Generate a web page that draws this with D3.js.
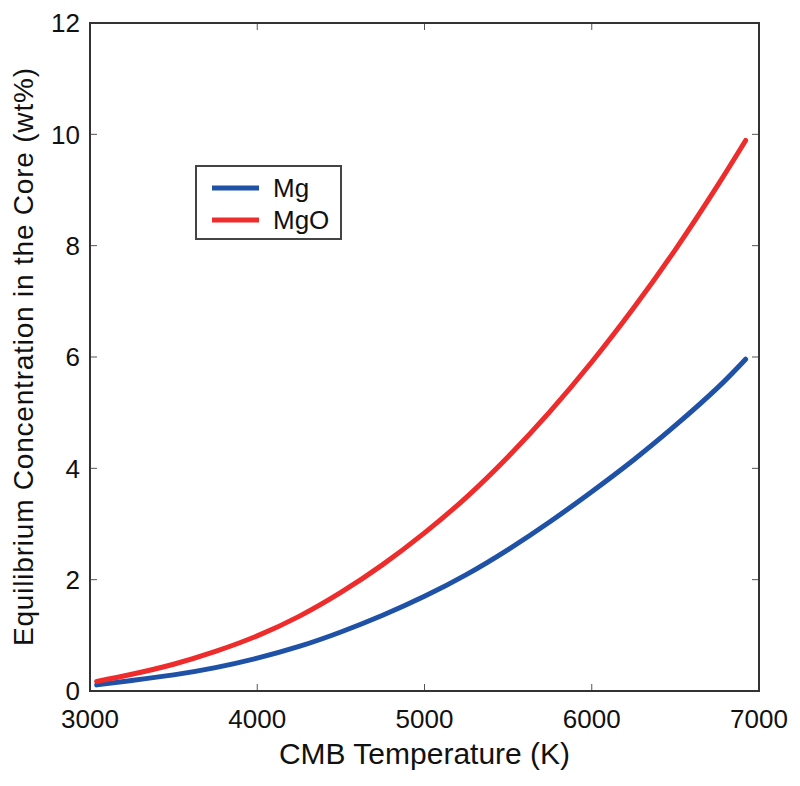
<!DOCTYPE html>
<html><head><meta charset="utf-8">
<script src="https://cdn.jsdelivr.net/npm/d3@7"></script>
<style>body{margin:0;background:#fff}svg{display:block}text{font-family:"Liberation Sans",Arial,Helvetica,sans-serif;fill:#111}</style>
</head><body>
<script>
const temps = [3040,3250,3500,3750,4000,4250,4500,4750,5000,5250,5500,5750,6000,6250,6500,6750,6920];
const mgValues = [0.11,0.19,0.29,0.42,0.59,0.80,1.06,1.36,1.70,2.09,2.54,3.04,3.58,4.15,4.77,5.44,5.96];
const mgoValues = [0.17,0.30,0.48,0.71,0.99,1.34,1.77,2.27,2.84,3.48,4.21,5.02,5.91,6.88,7.93,9.07,9.89];
const xTicks = [3000,4000,5000,6000,7000];
const yTicks = [0,2,4,6,8,10,12];
const seriesNames = ["Mg","MgO"];
const seriesColors = ["#1f52a6","#ee2c2c"];

const W=800,H=786;
const m={l:90,r:41,t:23,b:95};
const svg=d3.select("body").append("svg").attr("width",W).attr("height",H);
const x=d3.scaleLinear().domain([3000,7000]).range([m.l,W-m.r]);
const y=d3.scaleLinear().domain([0,12]).range([H-m.b,m.t]);

const tl=7;
const g=svg.append("g");
xTicks.forEach(t=>{
  g.append("line").attr("x1",x(t)).attr("x2",x(t)).attr("y1",y(0)).attr("y2",y(0)-tl).attr("stroke","#555").attr("stroke-width",1);
  g.append("line").attr("x1",x(t)).attr("x2",x(t)).attr("y1",y(12)).attr("y2",y(12)+tl).attr("stroke","#555").attr("stroke-width",1);
  g.append("text").attr("x",x(t)).attr("y",y(0)+37).attr("text-anchor","middle").attr("font-size",26).text(t);
});
yTicks.forEach(t=>{
  g.append("line").attr("x1",x(3000)).attr("x2",x(3000)+tl).attr("y1",y(t)).attr("y2",y(t)).attr("stroke","#555").attr("stroke-width",1);
  g.append("line").attr("x1",x(7000)).attr("x2",x(7000)-tl).attr("y1",y(t)).attr("y2",y(t)).attr("stroke","#555").attr("stroke-width",1);
  g.append("text").attr("x",x(3000)-10).attr("y",y(t)).attr("dy","0.36em").attr("text-anchor","end").attr("font-size",26).text(t);
});

const series=[mgValues,mgoValues];
const line=d3.line().x((d,i)=>x(temps[i])).y(d=>y(d)).curve(d3.curveNatural);
series.forEach((vals,k)=>{
  svg.append("path").datum(vals).attr("d",line).attr("fill","none")
    .attr("stroke",seriesColors[k]).attr("stroke-width",5).attr("stroke-linecap","round");
});

svg.append("rect").attr("x",x(3000)).attr("y",y(12)).attr("width",x(7000)-x(3000)).attr("height",y(0)-y(12))
  .attr("fill","none").attr("stroke","#333").attr("stroke-width",2);

svg.append("text").attr("x",(x(3000)+x(7000))/2).attr("y",764).attr("text-anchor","middle").attr("font-size",30).text("CMB Temperature (K)");
svg.append("text").attr("transform",`translate(33,357) rotate(-90)`).attr("text-anchor","middle").attr("font-size",28)
  .attr("textLength",578).attr("lengthAdjust","spacing").text("Equilibrium Concentration in the Core (wt%)");

const lg=svg.append("g");
lg.append("rect").attr("x",196).attr("y",166).attr("width",145).attr("height",73).attr("fill","#fff").attr("stroke","#444").attr("stroke-width",2);
seriesNames.forEach((n,i)=>{
  const yy=188+i*32;
  lg.append("line").attr("x1",212).attr("x2",259).attr("y1",yy).attr("y2",yy).attr("stroke",seriesColors[i]).attr("stroke-width",5);
  lg.append("text").attr("x",273).attr("y",yy).attr("dy","0.36em").attr("font-size",26).text(n);
});
</script>
</body></html>
